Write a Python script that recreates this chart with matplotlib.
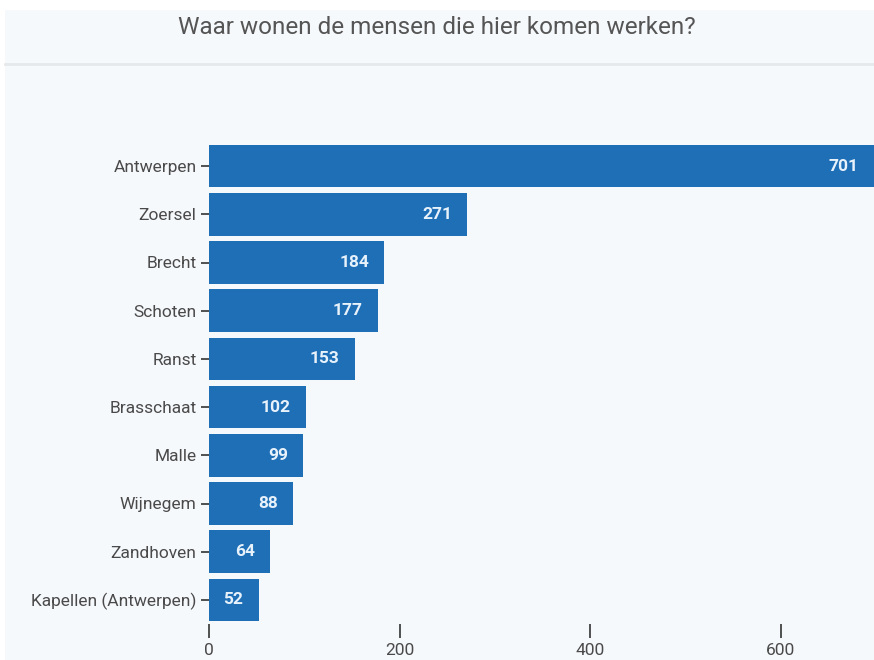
import matplotlib.pyplot as plt
from matplotlib.lines import Line2D

gemeenten = ['Antwerpen', 'Zoersel', 'Brecht', 'Schoten', 'Ranst', 'Brasschaat',
             'Malle', 'Wijnegem', 'Zandhoven', 'Kapellen (Antwerpen)']
aantallen = [701, 271, 184, 177, 153, 102, 99, 88, 64, 52]
x_ticks = [0, 200, 400, 600]

plt.rcParams['font.family'] = ['Roboto', 'DejaVu Sans']
BG = '#f6f9fc'
BLAUW = '#1f6fb7'

fig = plt.figure(figsize=(8.74, 6.6), dpi=100, facecolor='white')
# lichte achtergrond onder de witte rand bovenaan
fig.patches.append(plt.Rectangle((5 / 874, 0), 1, 1 - 10 / 660, transform=fig.transFigure,
                                 facecolor=BG, edgecolor='none', zorder=-10))
fig.lines.append(Line2D([5 / 874, 1], [1 - 64 / 660] * 2, transform=fig.transFigure,
                        color='#e6e9ec', lw=2, zorder=-5))
fig.text(0.5, 1 - 28 / 660, 'Waar wonen de mensen die hier komen werken?',
         ha='center', va='center', fontsize=17.5, color='#555555')

ax = fig.add_axes([209 / 874, 1 - 624 / 660, 665 / 874, 482 / 660])
ax.set_facecolor('none')
ypos = list(range(len(gemeenten)))
bars = ax.barh(ypos, aantallen, height=0.88, color=BLAUW)
ax.set_ylim(len(gemeenten) - 0.5, -0.5)
ax.set_xlim(0, 698)
ax.set_yticks(ypos)
ax.set_yticklabels(gemeenten, fontsize=12.5, color='#4a4a4a')
ax.set_xticks(x_ticks)
ax.set_xticklabels([str(t) for t in x_ticks], fontsize=12.5, color='#4a4a4a')
ax.tick_params(axis='y', length=6, width=1.2, color='#333333', pad=3)
ax.tick_params(axis='x', length=10, width=1.2, color='#333333', pad=4)
for s in ax.spines.values():
    s.set_visible(False)

for b, v in zip(bars, aantallen):
    xe = min(v, 698)
    ax.annotate(str(v), (xe, b.get_y() + b.get_height() / 2), xytext=(-11, 0),
                textcoords='offset points', ha='right', va='center',
                color='#e8f2fb', fontsize=12.5, fontweight='bold')

fig.savefig('out.png', dpi=100, facecolor='white')
